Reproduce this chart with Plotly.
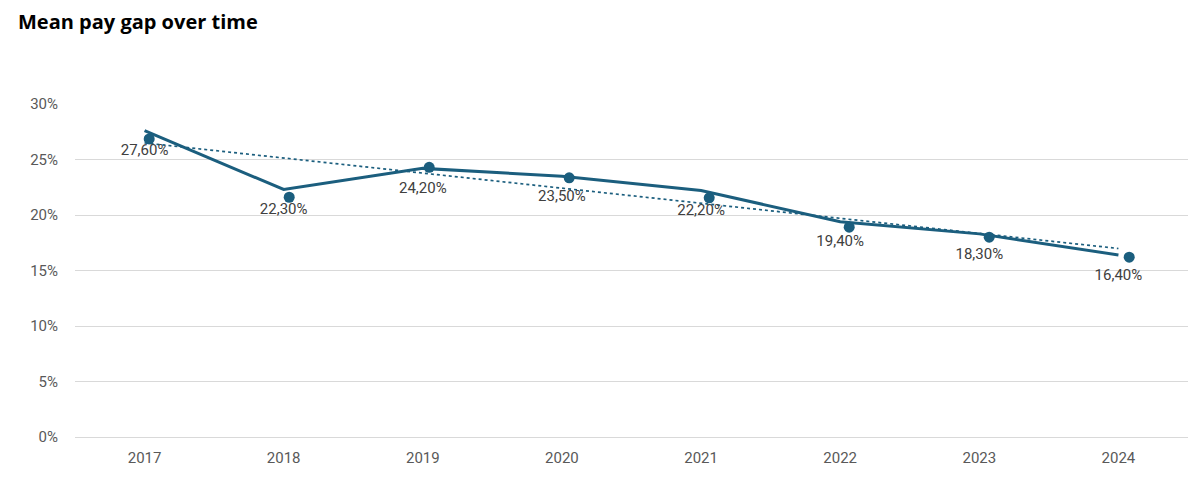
import numpy as np
import plotly.graph_objects as go

years = ["2017", "2018", "2019", "2020", "2021", "2022", "2023", "2024"]
mean_gap = [27.6, 22.3, 24.2, 23.5, 22.2, 19.4, 18.3, 16.4]
marker_vals = [26.85, 21.6, 24.3, 23.35, 21.55, 18.9, 18.0, 16.2]
y_ticks = [0, 5, 10, 15, 20, 25, 30]
y_tick_labels = ["0%", "5%", "10%", "15%", "20%", "25%", "30%"]

COLOR = "#1B5E7E"
labels = [f"{v:.2f}%".replace(".", ",") for v in mean_gap]

xi = np.arange(len(years))
slope, intercept = np.polyfit(xi, mean_gap, 1)
trend = slope * xi + intercept

fig = go.Figure()
fig.add_trace(go.Scatter(
    x=years, y=trend, mode="lines",
    line=dict(color=COLOR, width=1.7, dash="dot"),
    hoverinfo="skip", showlegend=False))
fig.add_trace(go.Scatter(
    x=years, y=mean_gap, mode="lines+markers+text",
    line=dict(color=COLOR, width=3),
    marker=dict(size=20, opacity=0),
    text=labels, textposition="bottom center",
    textfont=dict(family="Roboto", size=15, color="#404040"),
    showlegend=False))
fig.add_trace(go.Scatter(
    x=years, y=marker_vals, mode="markers",
    marker=dict(size=11, color=COLOR),
    xaxis="x2", showlegend=False))

fig.update_layout(
    width=1203, height=485,
    margin=dict(l=67, r=23, t=96, b=56),
    paper_bgcolor="white", plot_bgcolor="white",
    title=dict(text="<b>Mean pay gap over time</b>", x=0.0083, xanchor="left",
               y=0.971, yanchor="middle",
               font=dict(family="Open Sans", size=20, color="#000000")),
    xaxis=dict(type="category", range=[-0.5, 7.5], showgrid=False,
               showline=False, zeroline=False, ticks="", ticklabelstandoff=10,
               tickfont=dict(family="Roboto", size=15, color="#595959")),
    xaxis2=dict(type="category", overlaying="x", range=[-0.53, 7.42],
                visible=False),
    yaxis=dict(range=[0, 30], tickvals=y_ticks, ticktext=y_tick_labels,
               showgrid=True, gridcolor="#D9D9D9", gridwidth=1,
               zeroline=True, zerolinecolor="#D9D9D9", zerolinewidth=1,
               showline=False, ticks="", ticklabelstandoff=16,
               tickfont=dict(family="Roboto", size=15, color="#595959")),
    font=dict(family="Roboto"),
)

fig.write_html("out.html")
